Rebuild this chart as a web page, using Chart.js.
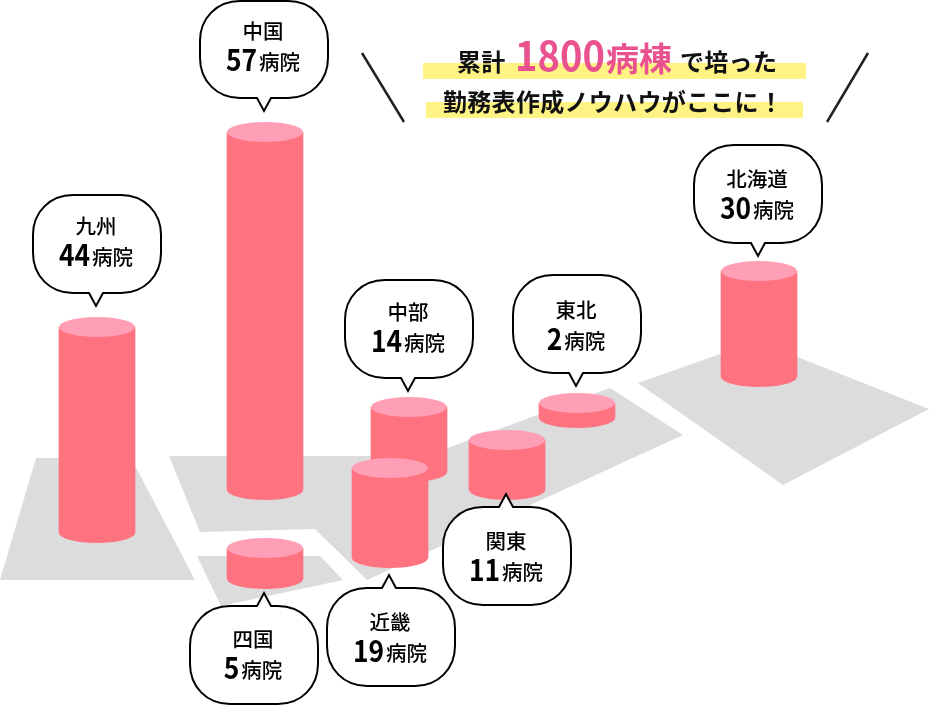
<!DOCTYPE html>
<html lang="ja">
<head>
    <meta charset="UTF-8">
    <title>地域別 病院数</title>
    <script src="https://cdnjs.cloudflare.com/ajax/libs/Chart.js/4.4.1/chart.umd.js"></script>
    <style>
        html, body { margin: 0; background: #fff; }
        canvas { display: block; }
    </style>
</head>
<body>
    <canvas id="myChart" width="929" height="705"></canvas>

    <script>
        // Regions and hospital counts
        const regions = ['九州', '中国', '四国', '中部', '近畿', '関東', '東北', '北海道'];
        const hospitals = [44, 57, 5, 14, 19, 11, 2, 30];
        // Cylinder heights (axis units), they are not proportional to the counts
        const cylinderHeights = [206, 358, 31, 65, 90, 50, 15, 106];

        // Where each region sits on the map, in axis units
        const regionX = [97, 265, 265, 409, 390, 507, 577, 759];
        const regionFoot = [533, 490, 579, 472, 558, 490, 418, 377];
        const calloutLeft = [33, 200, 190, 345, 327, 443, 513, 694];
        const calloutTop = [195, 0, 606, 280, 588, 507, 275, 145];
        const calloutBelow = [false, false, true, false, true, true, false, false];
        const calloutTextShift = [-1, -1, 1, 0, 2, 2, 3, 2];

        // Grey map blocks behind the cylinders
        const mapBlocks = [
            [[36, 458], [131, 458], [195, 580], [0, 580]],
            [[169, 456], [426, 456], [610, 388], [683, 435], [367, 580], [315, 529], [200, 532]],
            [[197, 556], [320, 556], [343, 580], [221, 606]],
            [[638, 383], [757, 341], [929, 409], [783, 485]]
        ];

        const bodyColor = '#ff7280';
        const capColor = '#ff9fb6';
        const jpFont = '"Noto Sans CJK JP"';

        // 近畿 stands in front of 中部
        const drawOrder = [2, 1, 1, 3, 1, 1, 1, 1];

        var datasets = [];
        regions.forEach(function (name, i) {
            datasets.push({
                type: 'bar',
                label: name,
                data: [{ x: regionX[i], y: [regionFoot[i], regionFoot[i] - cylinderHeights[i]] }],
                backgroundColor: bodyColor,
                borderWidth: 0,
                barThickness: 76,
                grouped: false,
                order: drawOrder[i]
            });
        });
        mapBlocks.forEach(function (block, i) {
            const pts = block.concat([block[0]]).map(function (p) { return { x: p[0], y: p[1] }; });
            datasets.push({
                type: 'scatter',
                label: 'map' + i,
                data: pts,
                showLine: true,
                fill: 'shape',
                backgroundColor: '#dcdcdc',
                borderWidth: 0,
                pointRadius: 0,
                order: 10
            });
        });

        // Round the bars into cylinders
        const cylinderCaps = {
            id: 'cylinderCaps',
            afterDatasetDraw: function (chart, args) {
                if (args.meta.type !== 'bar') return;
                const ctx = chart.ctx;
                args.meta.data.forEach(function (bar) {
                    const top = Math.min(bar.y, bar.base);
                    const foot = Math.max(bar.y, bar.base);
                    ctx.save();
                    ctx.fillStyle = bodyColor;
                    ctx.beginPath();
                    ctx.ellipse(bar.x, foot, bar.width / 2, 10, 0, 0, Math.PI * 2);
                    ctx.fill();
                    ctx.fillStyle = capColor;
                    ctx.beginPath();
                    ctx.ellipse(bar.x, top, bar.width / 2, 10, 0, 0, Math.PI * 2);
                    ctx.fill();
                    ctx.restore();
                });
            }
        };

        function calloutPath(ctx, x, y, w, h, below, cx) {
            const r = 40, k = 17, t = 7, tail = 13;
            ctx.beginPath();
            ctx.moveTo(x + r, y);
            if (below) {
                ctx.lineTo(cx - t, y);
                ctx.lineTo(cx, y - tail);
                ctx.lineTo(cx + t, y);
            }
            ctx.lineTo(x + w - r, y);
            ctx.bezierCurveTo(x + w - k, y, x + w, y + k, x + w, y + r);
            ctx.lineTo(x + w, y + h - r);
            ctx.bezierCurveTo(x + w, y + h - k, x + w - k, y + h, x + w - r, y + h);
            if (!below) {
                ctx.lineTo(cx + t, y + h);
                ctx.lineTo(cx, y + h + tail);
                ctx.lineTo(cx - t, y + h);
            }
            ctx.lineTo(x + r, y + h);
            ctx.bezierCurveTo(x + k, y + h, x, y + h - k, x, y + h - r);
            ctx.lineTo(x, y + r);
            ctx.bezierCurveTo(x, y + k, x + k, y, x + r, y);
            ctx.closePath();
        }

        function drawCallout(ctx, i) {
            const x = calloutLeft[i], y = calloutTop[i], w = 128, h = 98;
            // the 中国 box touches the top of the page, keep its outline inside
            calloutPath(ctx, x, Math.max(y, 1), w, h - Math.max(y, 1) + y, calloutBelow[i], regionX[i] - 1);
            ctx.fillStyle = '#fff';
            ctx.fill();
            ctx.lineWidth = 2;
            ctx.strokeStyle = '#000';
            ctx.lineJoin = 'miter';
            ctx.stroke();

            const mid = x + w / 2 - 1;
            const textY = y + calloutTextShift[i];
            ctx.fillStyle = '#000';
            ctx.textBaseline = 'alphabetic';
            ctx.textAlign = 'center';
            ctx.font = '500 20.5px ' + jpFont;
            ctx.fillText(regions[i], mid, textY + 40);

            // number is narrower than the CJK face's digits
            const num = String(hospitals[i]);
            ctx.font = 'bold 30px ' + jpFont;
            const numWidth = ctx.measureText(num).width * 0.88;
            const unitWidth = 41;
            const left = mid - (numWidth + 2 + unitWidth) / 2;
            ctx.textAlign = 'left';
            ctx.fillText(num, left, textY + 72, numWidth);
            ctx.font = '500 20.5px ' + jpFont;
            ctx.fillText('病院', left + numWidth + 2, textY + 71);
        }

        function drawHeadline(ctx) {
            ctx.fillStyle = '#fff384';
            ctx.fillRect(423, 63, 383, 16);
            ctx.fillRect(426, 102, 377, 16);

            ctx.strokeStyle = '#222';
            ctx.lineWidth = 2.5;
            ctx.beginPath();
            ctx.moveTo(362, 53);
            ctx.lineTo(404, 122);
            ctx.moveTo(868, 53);
            ctx.lineTo(827, 122);
            ctx.stroke();

            ctx.textAlign = 'left';
            ctx.textBaseline = 'alphabetic';
            ctx.letterSpacing = '0.3px';
            ctx.fillStyle = '#111';
            ctx.font = 'bold 24px ' + jpFont;
            ctx.fillText('累計', 457, 71);
            ctx.fillText('で培った', 680, 71);
            ctx.fillText('勤務表作成ノウハウがここに！', 443, 111);
            ctx.letterSpacing = '0px';
            ctx.fillStyle = '#e9528e';
            ctx.font = 'bold 41px ' + jpFont;
            ctx.fillText('1800', 515, 71, 90);
            ctx.font = 'bold 33px ' + jpFont;
            ctx.fillText('病棟', 606, 71);
        }

        const overlay = {
            id: 'overlay',
            afterDraw: function (chart) {
                const ctx = chart.ctx;
                ctx.save();
                drawHeadline(ctx);
                regions.forEach(function (name, i) { drawCallout(ctx, i); });
                ctx.restore();
            }
        };

        var myChart = new Chart('myChart', {
            data: { datasets: datasets },
            plugins: [cylinderCaps, overlay],
            options: {
                responsive: false,
                animation: false,
                events: [],
                layout: { padding: 0 },
                plugins: {
                    legend: { display: false },
                    title: { display: false },
                    tooltip: { enabled: false }
                },
                scales: {
                    x: { type: 'linear', display: false, min: 0, max: 929, offset: false },
                    y: { type: 'linear', display: false, min: 0, max: 705, reverse: true }
                }
            }
        });
    </script>
</body>
</html>
